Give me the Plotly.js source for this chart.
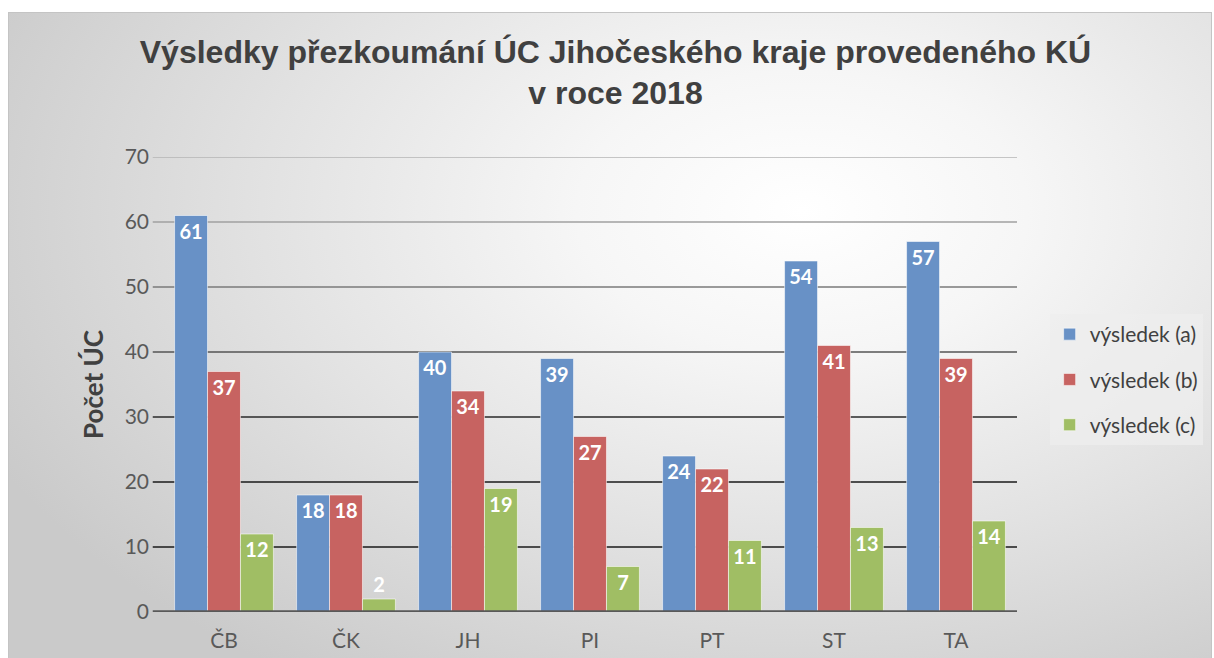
<!DOCTYPE html>
<html><head><meta charset="utf-8">
<script src="https://cdn.plot.ly/plotly-3.0.1.min.js"></script>
<style>
html,body{margin:0;padding:0;background:#fff;width:1214px;height:658px;overflow:hidden;}
#bg{position:absolute;left:8px;top:12px;width:1202px;height:660px;border:1px solid #c4c4c4;
background:radial-gradient(ellipse 75% 85% at 66% 30%, #ffffff 0%, #f6f6f6 25%, #e2e2e2 60%, #cacaca 100%);}
#chart{position:absolute;left:0;top:0;width:1214px;height:658px;}
</style></head>
<body><div id="bg"></div><div id="chart"></div>
<script>
const categories = ['ČB','ČK','JH','PI','PT','ST','TA'];
const seriesNames = ['výsledek (a)','výsledek (b)','výsledek (c)'];
const valuesA = [61,18,40,39,24,54,57];
const valuesB = [37,18,34,27,22,41,39];
const valuesC = [12,2,19,7,11,13,14];
const yTicks = [0,10,20,30,40,50,60,70];
const gridColors = ['#595959','#1a1a1a','#1a1a1a','#2a2a2a','#555555','#7a7a7a','#a0a0a0','#b4b4b4'];
const colors = ['rgb(104,145,198)','rgb(199,99,97)','rgb(160,190,100)'];
const allValues = [valuesA, valuesB, valuesC];
const baseFont = 'Lato, "Open Sans", sans-serif';

const traces = allValues.map((vals, i) => ({
  type: 'bar',
  name: seriesNames[i],
  legendgroup: 'g' + i,
  x: categories,
  y: vals,
  text: vals.map(String),
  textposition: 'auto',
  insidetextanchor: 'end',
  textangle: 0,
  cliponaxis: false,
  constraintext: 'none',
  insidetextfont: {family: baseFont, size: 20, color: '#ffffff', weight: 'bold'},
  outsidetextfont: {family: baseFont, size: 20, color: '#ffffff', weight: 'bold'},
  marker: {color: colors[i], line: {color: 'rgba(255,255,255,0.55)', width: 1}},
  hoverinfo: 'skip'
}));

const shapes = yTicks.slice(1).map((v, k) => ({
  type: 'line', xref: 'paper', yref: 'y', x0: -0.012, x1: 1, y0: v, y1: v,
  line: {color: gridColors[k+1], width: 1.3}, layer: 'below'
}));
shapes.push({type: 'line', xref: 'paper', yref: 'y', x0: -0.012, x1: 1, y0: 0, y1: 0,
  line: {color: gridColors[0], width: 3.5}, layer: 'above'});

const layout = {
  width: 1214, height: 658,
  paper_bgcolor: 'rgba(0,0,0,0)',
  plot_bgcolor: 'rgba(0,0,0,0)',
  margin: {l: 163, r: 196, t: 157, b: 46},
  title: {
    text: 'Výsledky přezkoumání ÚC Jihočeského kraje provedeného KÚ<br>v roce 2018',
    font: {family: '"Liberation Sans", Arial, sans-serif', size: 32, color: '#404040', weight: 'bold'},
    x: 0.507, xanchor: 'center', y: 0.905, yanchor: 'top'
  },
  barmode: 'group',
  bargap: 0.19,
  bargroupgap: 0.0,
  xaxis: {
    type: 'category',
    showgrid: false, showline: false, zeroline: false, ticks: '',
    tickfont: {family: baseFont, size: 21, color: '#595959'},
    ticklabelstandoff: 14
  },
  yaxis: {
    range: [0, 70], tickvals: yTicks, showgrid: false, zeroline: false, showline: false,
    ticks: '', ticklabelstandoff: 13,
    tickfont: {family: baseFont, size: 21, color: '#595959'},
    title: {text: 'Počet ÚC', standoff: 13,
      font: {family: baseFont, size: 26, color: '#404040', weight: 'bold'}}
  },
  shapes: shapes,
  legend: {
    x: 1.037, xanchor: 'left', y: 0.655, yanchor: 'top',
    bgcolor: 'rgba(238,238,238,0.75)', borderwidth: 0,
    font: {family: baseFont, size: 21, color: '#404040'},
    traceorder: 'grouped', tracegroupgap: 15
  },
  showlegend: true
};

Plotly.newPlot('chart', traces, layout, {displayModeBar: false, staticPlot: true});
</script></body></html>
